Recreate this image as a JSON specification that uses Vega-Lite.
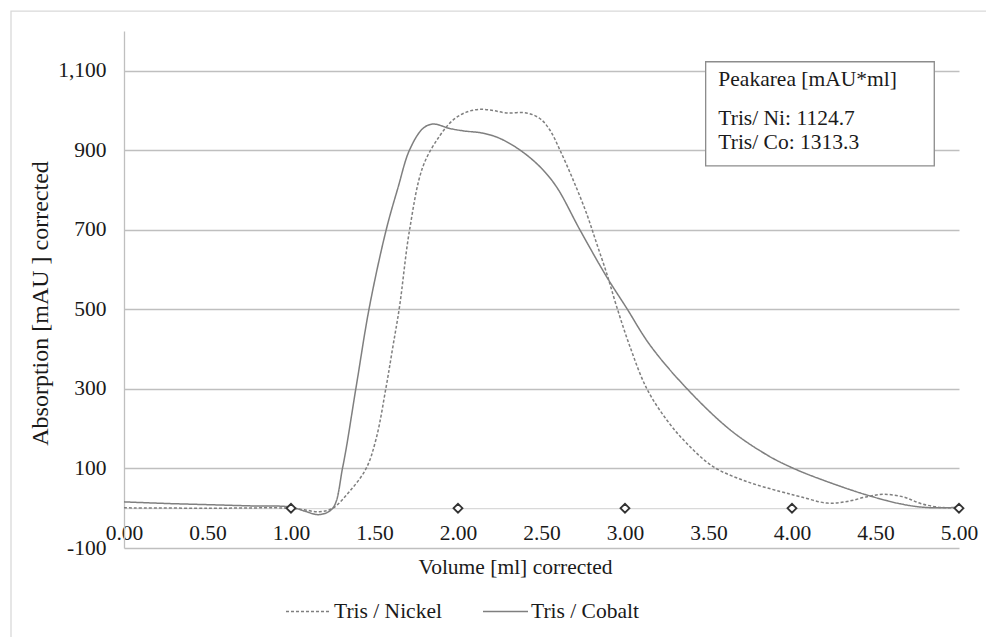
{
  "$schema": "https://vega.github.io/schema/vega-lite/v6.json",
  "width": 835,
  "height": 517,
  "autosize": {"type": "none"},
  "padding": {"left": 124, "top": 31, "right": 27, "bottom": 89},
  "background": "white",
  "config": {
    "view": {"stroke": null},
    "font": "'Liberation Serif', 'Times New Roman', 'DejaVu Serif', serif",
    "text": {"font": "'Liberation Serif', 'Times New Roman', 'DejaVu Serif', serif"}
  },
  "datasets": {
    "frame": [{"x": -0.6766, "x2": 5.5, "y": 1250.2, "y2": -400}],
    "curves": [
      {"series": "Tris / Nickel", "x": 0.0, "y": 1},
      {"series": "Tris / Nickel", "x": 0.5, "y": 0},
      {"series": "Tris / Nickel", "x": 1.0, "y": 0},
      {"series": "Tris / Nickel", "x": 1.08, "y": -4},
      {"series": "Tris / Nickel", "x": 1.17, "y": -9},
      {"series": "Tris / Nickel", "x": 1.25, "y": 0},
      {"series": "Tris / Nickel", "x": 1.35, "y": 42},
      {"series": "Tris / Nickel", "x": 1.45, "y": 100},
      {"series": "Tris / Nickel", "x": 1.51, "y": 175},
      {"series": "Tris / Nickel", "x": 1.57, "y": 306},
      {"series": "Tris / Nickel", "x": 1.61, "y": 406},
      {"series": "Tris / Nickel", "x": 1.65, "y": 507},
      {"series": "Tris / Nickel", "x": 1.71, "y": 700},
      {"series": "Tris / Nickel", "x": 1.79, "y": 859},
      {"series": "Tris / Nickel", "x": 1.89, "y": 936},
      {"series": "Tris / Nickel", "x": 1.97, "y": 976},
      {"series": "Tris / Nickel", "x": 2.05, "y": 996},
      {"series": "Tris / Nickel", "x": 2.13, "y": 1003},
      {"series": "Tris / Nickel", "x": 2.21, "y": 1000},
      {"series": "Tris / Nickel", "x": 2.29, "y": 994},
      {"series": "Tris / Nickel", "x": 2.41, "y": 994},
      {"series": "Tris / Nickel", "x": 2.49, "y": 980},
      {"series": "Tris / Nickel", "x": 2.55, "y": 951},
      {"series": "Tris / Nickel", "x": 2.61, "y": 901},
      {"series": "Tris / Nickel", "x": 2.69, "y": 825},
      {"series": "Tris / Nickel", "x": 2.77, "y": 741},
      {"series": "Tris / Nickel", "x": 2.83, "y": 666},
      {"series": "Tris / Nickel", "x": 2.89, "y": 591},
      {"series": "Tris / Nickel", "x": 2.95, "y": 507},
      {"series": "Tris / Nickel", "x": 3.03, "y": 406},
      {"series": "Tris / Nickel", "x": 3.13, "y": 301},
      {"series": "Tris / Nickel", "x": 3.25, "y": 222},
      {"series": "Tris / Nickel", "x": 3.37, "y": 163},
      {"series": "Tris / Nickel", "x": 3.53, "y": 104},
      {"series": "Tris / Nickel", "x": 3.73, "y": 67},
      {"series": "Tris / Nickel", "x": 3.93, "y": 42},
      {"series": "Tris / Nickel", "x": 4.05, "y": 29},
      {"series": "Tris / Nickel", "x": 4.21, "y": 13},
      {"series": "Tris / Nickel", "x": 4.33, "y": 17},
      {"series": "Tris / Nickel", "x": 4.45, "y": 29},
      {"series": "Tris / Nickel", "x": 4.55, "y": 35},
      {"series": "Tris / Nickel", "x": 4.67, "y": 28},
      {"series": "Tris / Nickel", "x": 4.77, "y": 12},
      {"series": "Tris / Nickel", "x": 4.89, "y": 2},
      {"series": "Tris / Nickel", "x": 5.0, "y": 2},
      {"series": "Tris / Cobalt", "x": 0.0, "y": 16},
      {"series": "Tris / Cobalt", "x": 0.25, "y": 12},
      {"series": "Tris / Cobalt", "x": 0.5, "y": 9},
      {"series": "Tris / Cobalt", "x": 0.75, "y": 6},
      {"series": "Tris / Cobalt", "x": 1.0, "y": 3},
      {"series": "Tris / Cobalt", "x": 1.08, "y": -7},
      {"series": "Tris / Cobalt", "x": 1.17, "y": -16},
      {"series": "Tris / Cobalt", "x": 1.25, "y": 0},
      {"series": "Tris / Cobalt", "x": 1.31, "y": 104},
      {"series": "Tris / Cobalt", "x": 1.39, "y": 305},
      {"series": "Tris / Cobalt", "x": 1.47, "y": 507},
      {"series": "Tris / Cobalt", "x": 1.57, "y": 700},
      {"series": "Tris / Cobalt", "x": 1.64, "y": 805},
      {"series": "Tris / Cobalt", "x": 1.71, "y": 901},
      {"series": "Tris / Cobalt", "x": 1.79, "y": 955},
      {"series": "Tris / Cobalt", "x": 1.85, "y": 966},
      {"series": "Tris / Cobalt", "x": 1.95, "y": 955},
      {"series": "Tris / Cobalt", "x": 2.03, "y": 949},
      {"series": "Tris / Cobalt", "x": 2.15, "y": 943},
      {"series": "Tris / Cobalt", "x": 2.25, "y": 930},
      {"series": "Tris / Cobalt", "x": 2.37, "y": 901},
      {"series": "Tris / Cobalt", "x": 2.49, "y": 859},
      {"series": "Tris / Cobalt", "x": 2.59, "y": 808},
      {"series": "Tris / Cobalt", "x": 2.73, "y": 700},
      {"series": "Tris / Cobalt", "x": 2.89, "y": 582},
      {"series": "Tris / Cobalt", "x": 3.01, "y": 503},
      {"series": "Tris / Cobalt", "x": 3.15, "y": 410},
      {"series": "Tris / Cobalt", "x": 3.37, "y": 301},
      {"series": "Tris / Cobalt", "x": 3.63, "y": 197},
      {"series": "Tris / Cobalt", "x": 3.85, "y": 134},
      {"series": "Tris / Cobalt", "x": 4.01, "y": 100},
      {"series": "Tris / Cobalt", "x": 4.21, "y": 67},
      {"series": "Tris / Cobalt", "x": 4.45, "y": 33},
      {"series": "Tris / Cobalt", "x": 4.65, "y": 11},
      {"series": "Tris / Cobalt", "x": 4.8, "y": 2},
      {"series": "Tris / Cobalt", "x": 5.0, "y": 2}
    ],
    "markers": [
      {"x": 1, "y": 0}, {"x": 2, "y": 0}, {"x": 3, "y": 0}, {"x": 4, "y": 0}, {"x": 5, "y": 0}
    ],
    "box": [{"x": 3.483, "x2": 4.852, "y": 1122.7, "y2": 861}],
    "notes": [
      {"x": 3.559, "y": 1076, "text": "Peakarea [mAU*ml]"},
      {"x": 3.559, "y": 978, "text": "Tris/ Ni: 1124.7"},
      {"x": 3.559, "y": 918, "text": "Tris/ Co: 1313.3"}
    ]
  },
  "encoding": {
    "x": {
      "field": "x",
      "type": "quantitative",
      "scale": {"domain": [0, 5], "nice": false, "zero": false},
      "axis": {
        "title": "Volume [ml] corrected",
        "values": [0, 0.5, 1, 1.5, 2, 2.5, 3, 3.5, 4, 4.5, 5],
        "format": ".2f",
        "offset": -39.8,
        "grid": false,
        "ticks": false,
        "tickSize": 0,
        "domainColor": "#d9d9d9",
        "domainWidth": 1.3,
        "labelFontSize": 21.5,
        "labelColor": "#1a1a1a",
        "labelBaseline": "middle",
        "labelPadding": 25,
        "labelFlush": false,
        "labelOverlap": false,
        "titleFontSize": 21.5,
        "titleFontWeight": "normal",
        "titleColor": "#1a1a1a",
        "titleX": 391,
        "titleY": 59,
        "titleAlign": "center",
        "titleBaseline": "middle",
        "titleAnchor": null
      }
    },
    "y": {
      "field": "y",
      "type": "quantitative",
      "scale": {"domain": [-100, 1200], "nice": false, "zero": false},
      "axis": {
        "title": "Absorption [mAU ] corrected",
        "values": [-100, 100, 300, 500, 700, 900, 1100],
        "labelExpr": "datum.value < 0 ? '-' + format(-datum.value, ',') : format(datum.value, ',')",
        "grid": true,
        "gridColor": "#bfbfbf",
        "gridWidth": 1.3,
        "ticks": false,
        "tickSize": 0,
        "domainColor": "#bfbfbf",
        "domainWidth": 1.3,
        "labelFontSize": 21.5,
        "labelColor": "#1a1a1a",
        "labelPadding": 18,
        "labelFlush": false,
        "labelOverlap": false,
        "titleFontSize": 24,
        "titleFontWeight": "normal",
        "titleColor": "#1a1a1a",
        "titleX": -84,
        "titleY": 272,
        "titleAngle": -90,
        "titleAlign": "center",
        "titleBaseline": "middle",
        "titleAnchor": null
      }
    }
  },
  "layer": [
    {
      "data": {"name": "frame"},
      "mark": {"type": "rect", "fill": null, "fillOpacity": 0, "stroke": "#d9d9d9", "strokeWidth": 1.3, "clip": false},
      "encoding": {
        "x2": {"field": "x2"},
        "y2": {"field": "y2"}
      }
    },
    {
      "data": {"name": "curves"},
      "mark": {"type": "line", "interpolate": "catmull-rom", "stroke": "#7f7f7f", "strokeWidth": 1.5},
      "encoding": {
        "detail": {"field": "series"},
        "strokeDash": {
          "field": "series",
          "type": "nominal",
          "scale": {"domain": ["Tris / Nickel", "Tris / Cobalt"], "range": [[3, 2], [1, 0]]},
          "legend": {
            "title": null,
            "orient": "none",
            "legendX": 161,
            "legendY": 557,
            "direction": "horizontal",
            "symbolType": "stroke",
            "symbolSize": 2025,
            "symbolStrokeColor": "#7f7f7f",
            "symbolStrokeWidth": 1.5,
            "labelFontSize": 21.5,
            "labelColor": "#1a1a1a",
            "labelOffset": 2,
            "columnPadding": 38,
            "labelLimit": 300
          }
        }
      }
    },
    {
      "data": {"name": "markers"},
      "mark": {"type": "point", "shape": "diamond", "size": 80, "filled": false, "fill": "white", "fillOpacity": 1, "stroke": "#333333", "strokeWidth": 1.8, "opacity": 1}
    },
    {
      "data": {"name": "box"},
      "mark": {"type": "rect", "fill": "white", "stroke": "#8c8c8c", "strokeWidth": 1.3},
      "encoding": {
        "x2": {"field": "x2"},
        "y2": {"field": "y2"}
      }
    },
    {
      "data": {"name": "notes"},
      "mark": {"type": "text", "align": "left", "baseline": "middle", "fontSize": 21.5, "color": "#1a1a1a"},
      "encoding": {
        "text": {"field": "text"}
      }
    }
  ]
}
